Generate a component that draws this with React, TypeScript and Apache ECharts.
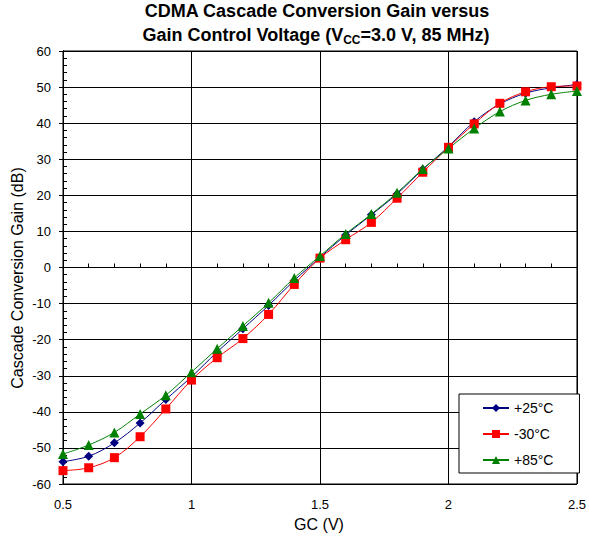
import React, { useEffect, useRef } from "react";
import * as echarts from "echarts";

const gcValues = [0.5, 0.6, 0.7, 0.8, 0.9, 1.0, 1.1, 1.2, 1.3, 1.4, 1.5, 1.6, 1.7, 1.8, 1.9, 2.0, 2.1, 2.2, 2.3, 2.4, 2.5];
const gain25 = [-53.8, -52.3, -48.6, -43.1, -36.6, -30.3, -23.4, -17.0, -10.5, -3.6, 2.8, 9.0, 14.6, 20.4, 27.2, 33.5, 40.4, 45.3, 48.3, 49.8, 50.7];
const gainM30 = [-56.3, -55.5, -52.7, -46.9, -39.2, -31.2, -25.0, -19.7, -13.0, -4.7, 2.6, 7.7, 12.5, 19.2, 26.4, 33.3, 39.8, 45.5, 48.7, 50.1, 50.3];
const gain85 = [-51.7, -49.2, -45.7, -40.6, -35.4, -29.0, -22.5, -16.2, -9.8, -2.9, 3.2, 9.3, 14.8, 20.7, 27.3, 33.0, 38.5, 43.2, 46.3, 48.0, 48.9];
const seriesNames = ["+25°C", "-30°C", "+85°C"];

const FONT = "'Liberation Sans', Arial, sans-serif";

export default function App() {
  const ref = useRef<HTMLDivElement>(null);
  useEffect(() => {
    if (!ref.current) return;
    const chart = echarts.init(ref.current, undefined, { renderer: "svg" });
    const pairs = (ys: number[]) => gcValues.map((x, i) => [x, ys[i]]);
    const axisCommon = { min: 0.5, max: 2.5, interval: 0.5 };
    const yCommon = { min: -60, max: 60, interval: 10 };
    const line = { lineStyle: { color: "#000", width: 1 } };
    const mk = (name: string, ys: number[], color: string, symbol: string, size: number) => ({
      name,
      type: "line",
      data: pairs(ys),
      smooth: 0.35,
      symbol,
      symbolSize: size,
      showSymbol: true,
      itemStyle: { color },
      lineStyle: { color, width: 1 },
      xAxisIndex: 0,
      yAxisIndex: 0,
      z: 3,
    });
    chart.setOption({
      animation: false,
      grid: {
        left: 63,
        right: 11,
        top: 51,
        bottom: 59,
        show: true,
        borderColor: "#000",
        borderWidth: 1,
        backgroundColor: "transparent",
      },
      graphic: [
        {
          type: "text",
          x: 317,
          y: 11,
          style: {
            text: "CDMA Cascade Conversion Gain versus",
            fontSize: 18,
            fontWeight: "bold",
            fontFamily: FONT,
            fill: "#000",
            textAlign: "center",
            textVerticalAlign: "middle",
          },
        },
        {
          type: "text",
          x: 316,
          y: 35,
          style: {
            text: "{a|Gain Control Voltage (V}{b|CC}{a|=3.0 V, 85 MHz)}",
            textAlign: "center",
            textVerticalAlign: "middle",
            fill: "#000",
            rich: {
              a: { fontSize: 18, fontWeight: "bold", fontFamily: FONT, fill: "#000", lineHeight: 22 },
              b: {
                fontSize: 12,
                fontWeight: "bold",
                fontFamily: FONT,
                fill: "#000",
                lineHeight: 22,
                padding: [10, 0, 0, 0],
              },
            },
          },
        },
        {
          type: "text",
          x: 319,
          y: 524,
          style: {
            text: "GC (V)",
            fontSize: 16,
            fontFamily: FONT,
            fill: "#000",
            textAlign: "center",
            textVerticalAlign: "middle",
          },
        },
        {
          type: "text",
          x: 17,
          y: 278,
          rotation: Math.PI / 2,
          style: {
            text: "Cascade Conversion Gain (dB)",
            fontSize: 16,
            fontFamily: FONT,
            fill: "#000",
            textAlign: "center",
            textVerticalAlign: "middle",
          },
        },
      ],
      legend: {
        orient: "vertical",
        left: 459,
        top: 394,
        padding: [7, 26, 6, 23],
        itemWidth: 26,
        itemHeight: 10,
        itemGap: 12,
        borderColor: "#000",
        borderWidth: 1,
        backgroundColor: "#fff",
        data: seriesNames,
        textStyle: { fontSize: 14, fontFamily: FONT, color: "#000" },
      },
      xAxis: [
        {
          type: "value",
          ...axisCommon,
          position: "bottom",
          axisLine: { show: true, ...line },
          axisTick: { show: true, inside: true, length: 4, ...line },
          minorTick: { show: true, splitNumber: 5, length: 4, ...line },
          splitLine: { show: true, lineStyle: { color: "#000", width: 1 } },
          axisLabel: { margin: 14, fontSize: 13, fontFamily: FONT, color: "#000" },
        },
        {
          type: "value",
          ...axisCommon,
          position: "bottom",
          axisLine: { show: true, ...line },
          axisTick: { show: true, inside: false, length: 4, ...line },
          axisLabel: { show: false },
          splitLine: { show: false },
        },
      ],
      yAxis: [
        {
          type: "value",
          ...yCommon,
          position: "left",
          axisLine: { show: true, ...line },
          axisTick: { show: true, inside: true, length: 4, ...line },
          minorTick: { show: true, splitNumber: 5, length: 4, ...line },
          splitLine: { show: true, lineStyle: { color: "#000", width: 1 } },
          axisLabel: { margin: 12, fontSize: 13, fontFamily: FONT, color: "#000" },
        },
        {
          type: "value",
          ...yCommon,
          position: "left",
          axisLine: { show: true, ...line },
          axisTick: { show: true, inside: false, length: 4, ...line },
          axisLabel: { show: false },
          splitLine: { show: false },
        },
      ],
      series: [
        mk(seriesNames[0], gain25, "#000080", "diamond", 9),
        mk(seriesNames[1], gainM30, "#FF0000", "rect", 9),
        mk(seriesNames[2], gain85, "#008000", "triangle", 10),
      ],
    });
    return () => chart.dispose();
  }, []);
  return (
    <div
      ref={ref}
      style={{ position: "fixed", left: 0, top: 0, width: 589, height: 543, background: "#fff" }}
    />
  );
}
